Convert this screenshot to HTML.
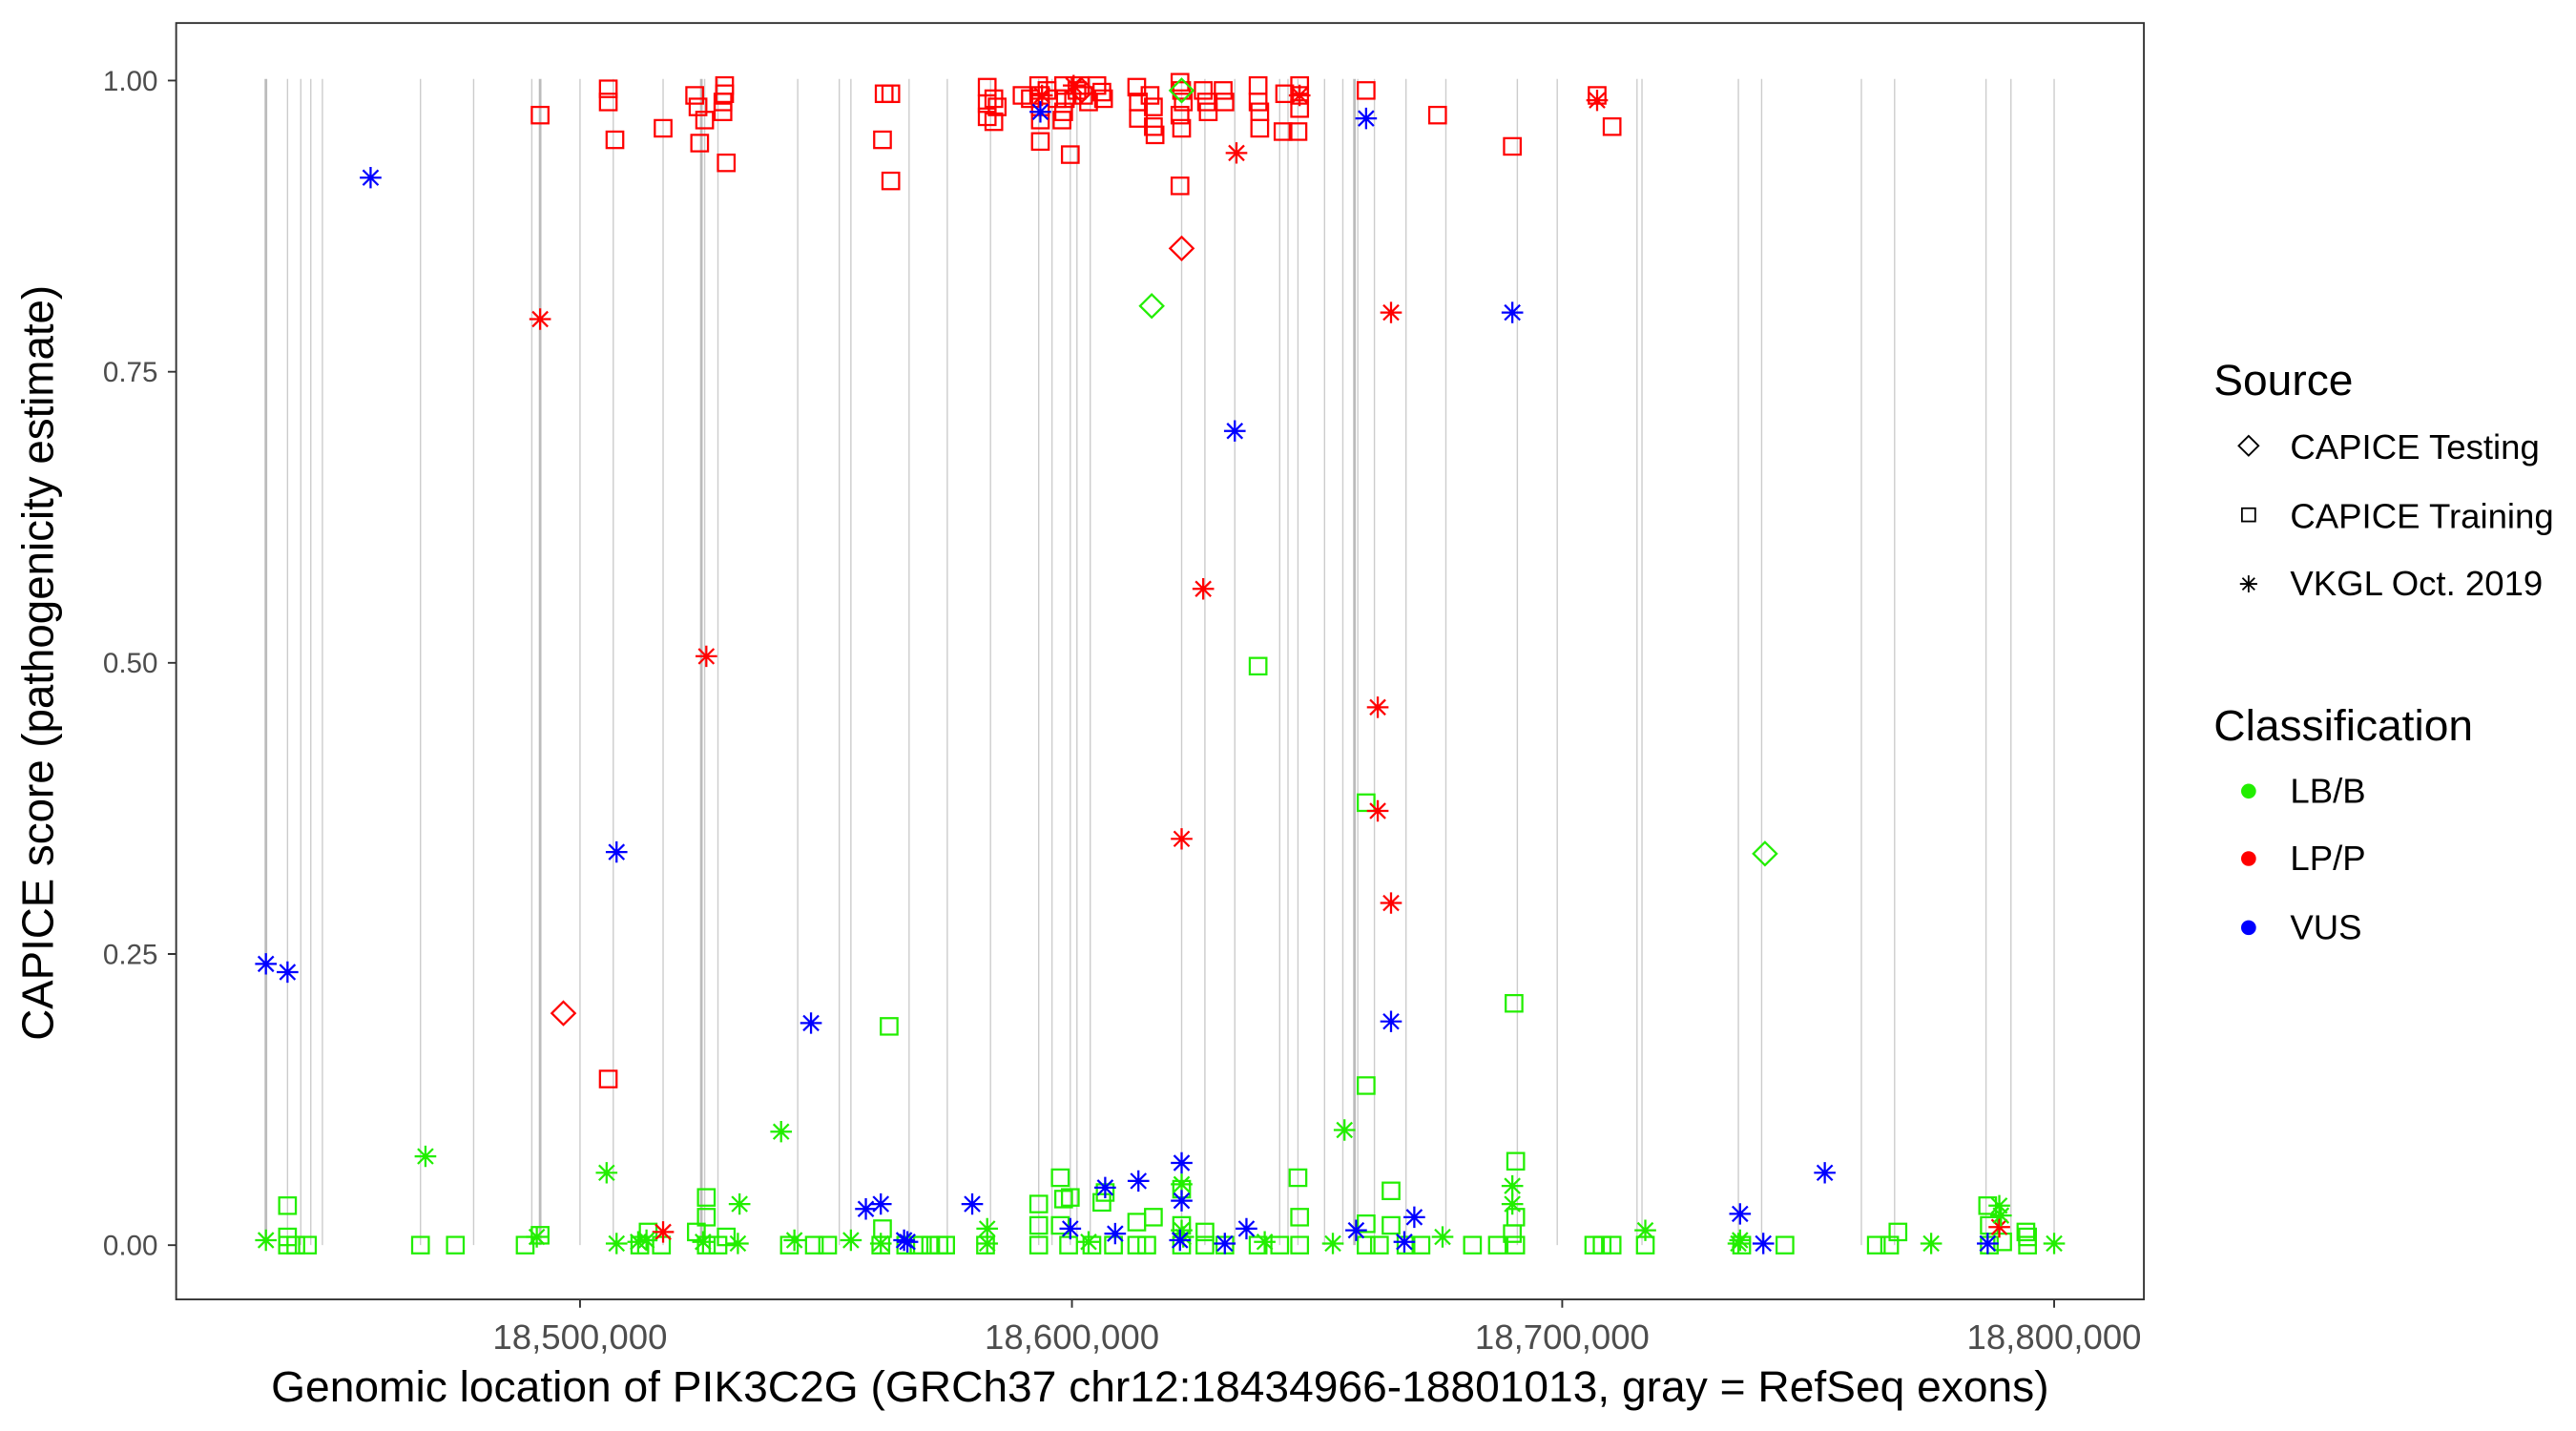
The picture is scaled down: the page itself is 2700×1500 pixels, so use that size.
<!DOCTYPE html>
<html><head><meta charset="utf-8"><style>
html,body{margin:0;padding:0;background:#fff;}
svg{display:block;}
text{font-family:"Liberation Sans",Arial,sans-serif;}
</style></head><body>
<svg width="2700" height="1500" viewBox="0 0 1550 870" preserveAspectRatio="none" xmlns="http://www.w3.org/2000/svg">
<defs>
<g id="s"><rect x="-5" y="-5" width="10" height="10" fill="none" stroke-width="1.3"/></g>
<g id="d"><path d="M0,-7 L7,0 L0,7 L-7,0 Z" fill="none" stroke-width="1.3"/></g>
<g id="a" stroke-width="1.3"><path d="M0,-6.5V6.5M-6.5,0H6.5M-4.6,-4.6L4.6,4.6M-4.6,4.6L4.6,-4.6" fill="none"/></g>
</defs>
<rect width="1550" height="870" fill="#fff"/>
<g stroke="#cccccc" stroke-width="0.8">
<path d="M173,48V757M181,48V757M187,48V757M194,48V757M253,48V757M285,48V757M320,48V757M349,48V757M369,48V757M399,48V757M424,48V757M432,48V757M480,48V757M505,48V757M512,48V757M547,48V757M570,48V757M596,48V757M625,48V757M633,48V757M644,48V757M648,48V757M656,48V757M711,48V757M725,48V757M743,48V757M770,48V757M775,48V757M781,48V757M797,48V757M808,48V757M817,48V757M827,48V757M846,48V757M870,48V757M913,48V757M937,48V757M985,48V757M988,48V757M1046,48V757M1060,48V757M1120,48V757M1140,48V757M1195,48V757M1210,48V757M1236,48V757"/>
</g>
<g stroke="#bbbbbb" stroke-width="1.6"><path d="M160,48V757M325,48V757M422,48V757M815,48V757"/></g>

<g stroke="#22ee00">
<use href="#s" x="757" y="405"/><use href="#s" x="535" y="624"/><use href="#s" x="822" y="488"/><use href="#s" x="911" y="610"/><use href="#s" x="822" y="660"/>
<use href="#s" x="173" y="733"/><use href="#s" x="173" y="752"/><use href="#s" x="173" y="757"/><use href="#s" x="178" y="757"/><use href="#s" x="185" y="757"/><use href="#s" x="253" y="757"/><use href="#s" x="274" y="757"/><use href="#s" x="316" y="757"/><use href="#s" x="325" y="751"/><use href="#s" x="385" y="757"/><use href="#s" x="390" y="749"/><use href="#s" x="398" y="757"/><use href="#s" x="419" y="749"/><use href="#s" x="425" y="728"/><use href="#s" x="425" y="740"/><use href="#s" x="425" y="757"/><use href="#s" x="432" y="757"/><use href="#s" x="437" y="752"/><use href="#s" x="475" y="757"/><use href="#s" x="490" y="757"/><use href="#s" x="498" y="757"/><use href="#s" x="530" y="757"/><use href="#s" x="531" y="747"/><use href="#s" x="545" y="757"/><use href="#s" x="553" y="757"/><use href="#s" x="560" y="757"/><use href="#s" x="565" y="757"/><use href="#s" x="569" y="757"/><use href="#s" x="593" y="757"/><use href="#s" x="625" y="732"/><use href="#s" x="625" y="745"/><use href="#s" x="625" y="757"/><use href="#s" x="638" y="716"/><use href="#s" x="640" y="729"/><use href="#s" x="638" y="745"/><use href="#s" x="644" y="728"/><use href="#s" x="643" y="757"/><use href="#s" x="657" y="757"/><use href="#s" x="663" y="731"/><use href="#s" x="665" y="725"/><use href="#s" x="670" y="757"/><use href="#s" x="684" y="743"/><use href="#s" x="684" y="757"/><use href="#s" x="694" y="740"/><use href="#s" x="690" y="757"/><use href="#s" x="711" y="723"/><use href="#s" x="711" y="745"/><use href="#s" x="711" y="757"/><use href="#s" x="725" y="749"/><use href="#s" x="725" y="757"/><use href="#s" x="737" y="757"/><use href="#s" x="757" y="757"/><use href="#s" x="770" y="757"/><use href="#s" x="781" y="716"/><use href="#s" x="782" y="740"/><use href="#s" x="782" y="757"/><use href="#s" x="822" y="744"/><use href="#s" x="822" y="757"/><use href="#s" x="837" y="724"/><use href="#s" x="837" y="745"/><use href="#s" x="830" y="757"/><use href="#s" x="846" y="757"/><use href="#s" x="855" y="757"/><use href="#s" x="886" y="757"/><use href="#s" x="901" y="757"/><use href="#s" x="910" y="750"/><use href="#s" x="912" y="706"/><use href="#s" x="912" y="740"/><use href="#s" x="912" y="757"/><use href="#s" x="959" y="757"/><use href="#s" x="964" y="757"/><use href="#s" x="970" y="757"/><use href="#s" x="990" y="757"/><use href="#s" x="1048" y="757"/><use href="#s" x="1074" y="757"/><use href="#s" x="1129" y="757"/><use href="#s" x="1137" y="757"/><use href="#s" x="1142" y="749"/><use href="#s" x="1196" y="733"/><use href="#s" x="1197" y="745"/><use href="#s" x="1197" y="757"/><use href="#s" x="1205" y="755"/><use href="#s" x="1219" y="749"/><use href="#s" x="1220" y="757"/><use href="#s" x="1220" y="752"/>
</g>
<g stroke="#ff0000">
<use href="#s" x="366" y="54"/><use href="#s" x="366" y="62"/><use href="#s" x="325" y="70"/><use href="#s" x="370" y="85"/><use href="#s" x="399" y="78"/><use href="#s" x="418" y="58"/><use href="#s" x="420" y="65"/><use href="#s" x="424" y="73"/><use href="#s" x="421" y="87"/><use href="#s" x="436" y="52"/><use href="#s" x="436" y="57"/><use href="#s" x="435" y="62"/><use href="#s" x="435" y="68"/><use href="#s" x="437" y="99"/><use href="#s" x="532" y="57"/><use href="#s" x="536" y="57"/><use href="#s" x="531" y="85"/><use href="#s" x="536" y="110"/><use href="#s" x="594" y="53"/><use href="#s" x="594" y="63"/><use href="#s" x="594" y="71"/><use href="#s" x="625" y="52"/><use href="#s" x="626" y="58"/><use href="#s" x="626" y="65"/><use href="#s" x="626" y="73"/><use href="#s" x="626" y="86"/><use href="#s" x="640" y="52"/><use href="#s" x="641" y="60"/><use href="#s" x="640" y="68"/><use href="#s" x="639" y="73"/><use href="#s" x="644" y="94"/><use href="#s" x="650" y="52"/><use href="#s" x="652" y="58"/><use href="#s" x="655" y="62"/><use href="#s" x="660" y="52"/><use href="#s" x="663" y="56"/><use href="#s" x="664" y="60"/><use href="#s" x="684" y="53"/><use href="#s" x="685" y="62"/><use href="#s" x="685" y="72"/><use href="#s" x="692" y="58"/><use href="#s" x="694" y="65"/><use href="#s" x="694" y="77"/><use href="#s" x="695" y="82"/><use href="#s" x="710" y="50"/><use href="#s" x="711" y="55"/><use href="#s" x="712" y="62"/><use href="#s" x="710" y="70"/><use href="#s" x="711" y="78"/><use href="#s" x="710" y="113"/><use href="#s" x="724" y="55"/><use href="#s" x="726" y="62"/><use href="#s" x="727" y="68"/><use href="#s" x="736" y="55"/><use href="#s" x="737" y="62"/><use href="#s" x="757" y="52"/><use href="#s" x="757" y="62"/><use href="#s" x="758" y="68"/><use href="#s" x="758" y="78"/><use href="#s" x="773" y="57"/><use href="#s" x="772" y="80"/><use href="#s" x="782" y="52"/><use href="#s" x="782" y="58"/><use href="#s" x="782" y="66"/><use href="#s" x="781" y="80"/><use href="#s" x="822" y="55"/><use href="#s" x="865" y="70"/><use href="#s" x="910" y="89"/><use href="#s" x="961" y="58"/><use href="#s" x="970" y="77"/><use href="#s" x="366" y="656"/><use href="#s" x="598" y="74"/><use href="#s" x="636" y="60"/><use href="#s" x="598" y="60"/><use href="#s" x="648" y="55"/><use href="#s" x="630" y="55"/><use href="#s" x="615" y="58"/><use href="#s" x="620" y="60"/><use href="#s" x="600" y="65"/>
<use href="#a" x="325" y="194"/><use href="#a" x="425" y="399"/><use href="#a" x="399" y="749"/><use href="#a" x="724" y="358"/><use href="#a" x="744" y="93"/><use href="#a" x="711" y="510"/><use href="#a" x="829" y="430"/><use href="#a" x="829" y="493"/><use href="#a" x="837" y="549"/><use href="#a" x="837" y="190"/><use href="#a" x="961" y="61"/><use href="#a" x="782" y="58"/><use href="#a" x="1203" y="746"/><use href="#a" x="646" y="52"/><use href="#a" x="627" y="58"/>
<use href="#d" x="711" y="151"/><use href="#d" x="339" y="616"/><use href="#d" x="651" y="55"/>
</g>
<g stroke="#22ee00">
<use href="#d" x="693" y="186"/><use href="#d" x="1062" y="519"/><use href="#d" x="711" y="55"/>
<use href="#a" x="256" y="703"/><use href="#a" x="365" y="713"/><use href="#a" x="470" y="688"/><use href="#a" x="160" y="754"/><use href="#a" x="323" y="752"/><use href="#a" x="371" y="756"/><use href="#a" x="384" y="755"/><use href="#a" x="389" y="754"/><use href="#a" x="423" y="755"/><use href="#a" x="445" y="732"/><use href="#a" x="444" y="756"/><use href="#a" x="478" y="754"/><use href="#a" x="512" y="754"/><use href="#a" x="530" y="756"/><use href="#a" x="594" y="756"/><use href="#a" x="594" y="747"/><use href="#a" x="711" y="720"/><use href="#a" x="711" y="748"/><use href="#a" x="802" y="756"/><use href="#a" x="809" y="687"/><use href="#a" x="868" y="752"/><use href="#a" x="910" y="721"/><use href="#a" x="910" y="732"/><use href="#a" x="990" y="748"/><use href="#a" x="1047" y="754"/><use href="#a" x="1162" y="756"/><use href="#a" x="1203" y="733"/><use href="#a" x="1236" y="756"/><use href="#a" x="1204" y="739"/><use href="#a" x="1046" y="756"/><use href="#a" x="655" y="755"/><use href="#a" x="712" y="752"/><use href="#a" x="761" y="755"/>
</g>
<g stroke="#0000ff">
<use href="#a" x="223" y="108"/><use href="#a" x="160" y="586"/><use href="#a" x="173" y="591"/><use href="#a" x="371" y="518"/><use href="#a" x="488" y="622"/><use href="#a" x="626" y="68"/><use href="#a" x="822" y="72"/><use href="#a" x="910" y="190"/><use href="#a" x="743" y="262"/><use href="#a" x="837" y="621"/><use href="#a" x="521" y="735"/><use href="#a" x="530" y="732"/><use href="#a" x="585" y="732"/><use href="#a" x="544" y="754"/><use href="#a" x="546" y="755"/><use href="#a" x="644" y="747"/><use href="#a" x="665" y="722"/><use href="#a" x="685" y="718"/><use href="#a" x="711" y="707"/><use href="#a" x="711" y="730"/><use href="#a" x="710" y="754"/><use href="#a" x="737" y="756"/><use href="#a" x="750" y="747"/><use href="#a" x="816" y="748"/><use href="#a" x="845" y="755"/><use href="#a" x="851" y="740"/><use href="#a" x="1047" y="738"/><use href="#a" x="1061" y="756"/><use href="#a" x="1098" y="713"/><use href="#a" x="1196" y="756"/><use href="#a" x="671" y="750"/>
</g>

<rect x="106" y="14" width="1184" height="776" fill="none" stroke="#333" stroke-width="1.1"/>
<g stroke="#333" stroke-width="1.1">
<path d="M101,49H106M101,226H106M101,403H106M101,580H106M101,757H106"/>
<path d="M349,790V795M645,790V795M940,790V795M1236,790V795"/>
</g>
<g font-size="17" fill="#4d4d4d" text-anchor="end">
<text x="95" y="55">1.00</text><text x="95" y="232">0.75</text><text x="95" y="409">0.50</text><text x="95" y="586">0.25</text><text x="95" y="763">0.00</text>
</g>
<g font-size="21" fill="#4d4d4d" text-anchor="middle">
<text x="349" y="820">18,500,000</text><text x="645" y="820">18,600,000</text><text x="940" y="820">18,700,000</text><text x="1236" y="820">18,800,000</text>
</g>
<text x="698" y="852" font-size="26.5" text-anchor="middle" fill="#000">Genomic location of PIK3C2G (GRCh37 chr12:18434966-18801013, gray = RefSeq exons)</text>
<text transform="translate(32,403) rotate(-90)" font-size="26.5" text-anchor="middle" fill="#000">CAPICE score (pathogenicity estimate)</text>

<text x="1332" y="240" font-size="26.5">Source</text>
<g stroke="#000"><use href="#d" x="1353" y="271" transform="translate(1353,271) scale(0.85) translate(-1353,-271)"/><use href="#s" x="1353" y="313" transform="translate(1353,313) scale(0.8) translate(-1353,-313)"/><use href="#a" x="1353" y="355" transform="translate(1353,355) scale(0.8) translate(-1353,-355)"/></g>
<g font-size="21"><text x="1378" y="279">CAPICE Testing</text><text x="1378" y="321">CAPICE Training</text><text x="1378" y="362">VKGL Oct. 2019</text></g>
<text x="1332" y="450" font-size="26.5">Classification</text>
<circle cx="1353" cy="481" r="4.5" fill="#22ee00"/><circle cx="1353" cy="522" r="4.5" fill="#ff0000"/><circle cx="1353" cy="564" r="4.5" fill="#0000ff"/>
<g font-size="21"><text x="1378" y="488">LB/B</text><text x="1378" y="529">LP/P</text><text x="1378" y="571">VUS</text></g>
</svg>
</body></html>
